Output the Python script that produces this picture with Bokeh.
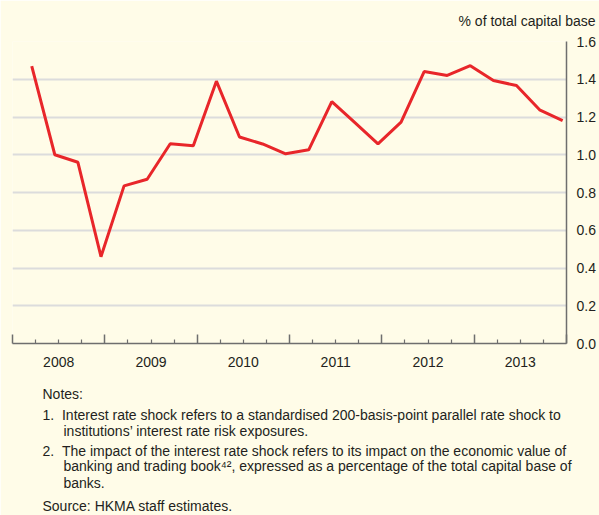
from bokeh.plotting import figure
from bokeh.models import Range1d, FixedTicker, LinearAxis, Title, ColumnDataSource
from bokeh.embed import file_html
from bokeh.resources import INLINE

# ---- data ----
quarter_years = [2008]*4 + [2009]*4 + [2010]*4 + [2011]*4 + [2012]*4 + [2013]*4
quarter_months = [3, 6, 9, 12] * 6
values = [1.47, 1.00, 0.96, 0.46,
          0.835, 0.87, 1.058, 1.048,
          1.39, 1.094, 1.057, 1.005,
          1.026, 1.282, 1.17, 1.058,
          1.173, 1.441, 1.42, 1.472,
          1.393, 1.367, 1.238, 1.181]
years = [2008, 2009, 2010, 2011, 2012, 2013]
year_labels = ["2008", "2009", "2010", "2011", "2012", "2013"]
y_ticks = [0.0, 0.2, 0.4, 0.6, 0.8, 1.0, 1.2, 1.4, 1.6]
y_grid = [0.2, 0.4, 0.6, 0.8, 1.0, 1.2, 1.4]
unit_label = "% of total capital base"
NB = "\u00a0\u00a0"
notes_lines = [
    "Notes:",
    "1." + NB + "Interest rate shock refers to a standardised 200-basis-point parallel rate shock to",
    "institutions\u2019 interest rate risk exposures.",
    "2." + NB + "The impact of the interest rate shock refers to its impact on the economic value of",
    "banking and trading book\u2074\u00b2, expressed as a percentage of the total capital base of",
    "banks.",
    "Source: HKMA staff estimates.",
]
notes_offset = [30, 30, 51, 30, 51, 51, 30]
notes_standoff = [8, -2, -2, 6, -12, 10, 0]

BG = "#fffce8"
FONT = "Liberation Sans"
TXT = "#231f20"
AX = "#6e6e6e"
FS = "14px"

x = [yr + (m - 0.5) / 12.0 for yr, m in zip(quarter_years, quarter_months)]
src = ColumnDataSource(dict(x=x, y=values))

W, H = 599, 515
p = figure(width=W, height=H, output_backend="svg", toolbar_location=None,
           x_range=Range1d(years[0], years[-1] + 1), y_range=Range1d(0, 1.6),
           x_axis_location=None, y_axis_location=None,
           min_border_left=12, min_border_top=41, min_border_right=33,
           min_border_bottom=172)
p.background_fill_color = BG
p.border_fill_color = BG
p.outline_line_color = None

p.xgrid.visible = False
p.ygrid.ticker = FixedTicker(ticks=y_grid)
p.ygrid.grid_line_color = "#dcdcdc"
p.ygrid.grid_line_width = 2

# right axis
ya = LinearAxis(ticker=FixedTicker(ticks=y_ticks))
ya.major_label_overrides = {v: f"{v:.1f}" for v in y_ticks}
ya.major_tick_in = 0
ya.major_tick_out = 0
ya.minor_tick_in = 0
ya.minor_tick_out = 0
ya.axis_line_color = AX
ya.axis_line_width = 1.5
ya.major_label_standoff = 10
ya.major_label_text_font = FONT
ya.major_label_text_font_size = FS
ya.major_label_text_color = TXT
p.add_layout(ya, "right")

# inner x axis: line + ticks
boundaries = years + [years[-1] + 1]
quarters = [yr + q / 4.0 for yr in years for q in (1, 2, 3)]
xa = LinearAxis(ticker=FixedTicker(ticks=boundaries, minor_ticks=quarters))
xa.major_label_overrides = {b: "" for b in boundaries}
xa.major_label_standoff = 0
xa.major_label_text_font_size = "1px"
xa.major_tick_in = 9
xa.major_tick_out = 0
xa.minor_tick_in = 4
xa.minor_tick_out = 0
xa.axis_line_color = AX
xa.major_tick_line_color = AX
xa.minor_tick_line_color = AX
xa.axis_line_width = 1.5
xa.major_tick_line_width = 1.5
xa.minor_tick_line_width = 1.2
p.add_layout(xa, "below")

# outer x axis: year labels
mids = [yr + 0.5 for yr in years]
xl = LinearAxis(ticker=FixedTicker(ticks=mids, minor_ticks=[]))
xl.major_label_overrides = {m: lab for m, lab in zip(mids, year_labels)}
xl.axis_line_color = None
xl.major_tick_line_color = None
xl.major_tick_in = 0
xl.major_tick_out = 0
xl.major_label_standoff = 13
xl.major_label_text_font = FONT
xl.major_label_text_font_size = FS
xl.major_label_text_color = TXT
p.add_layout(xl, "below")

p.line("x", "y", source=src, line_color="#e8262a", line_width=3)

p.add_layout(Title(text=unit_label, align="right", offset=-29, standoff=22,
                   vertical_align="top",
                   text_font=FONT, text_font_size=FS, text_font_style="normal",
                   text_color=TXT), "above")

# spacer between axis labels and notes
p.add_layout(Title(text="\u00a0", standoff=7, text_font_size="1px",
                   text_color=BG), "below")

for t, off, so in zip(notes_lines, notes_offset, notes_standoff):
    p.add_layout(Title(text=t, align="left", offset=off, standoff=so,
                       text_font=FONT, text_font_size=FS, text_font_style="normal",
                       text_color=TXT), "below")

open("out.html", "w").write(file_html(p, INLINE))
